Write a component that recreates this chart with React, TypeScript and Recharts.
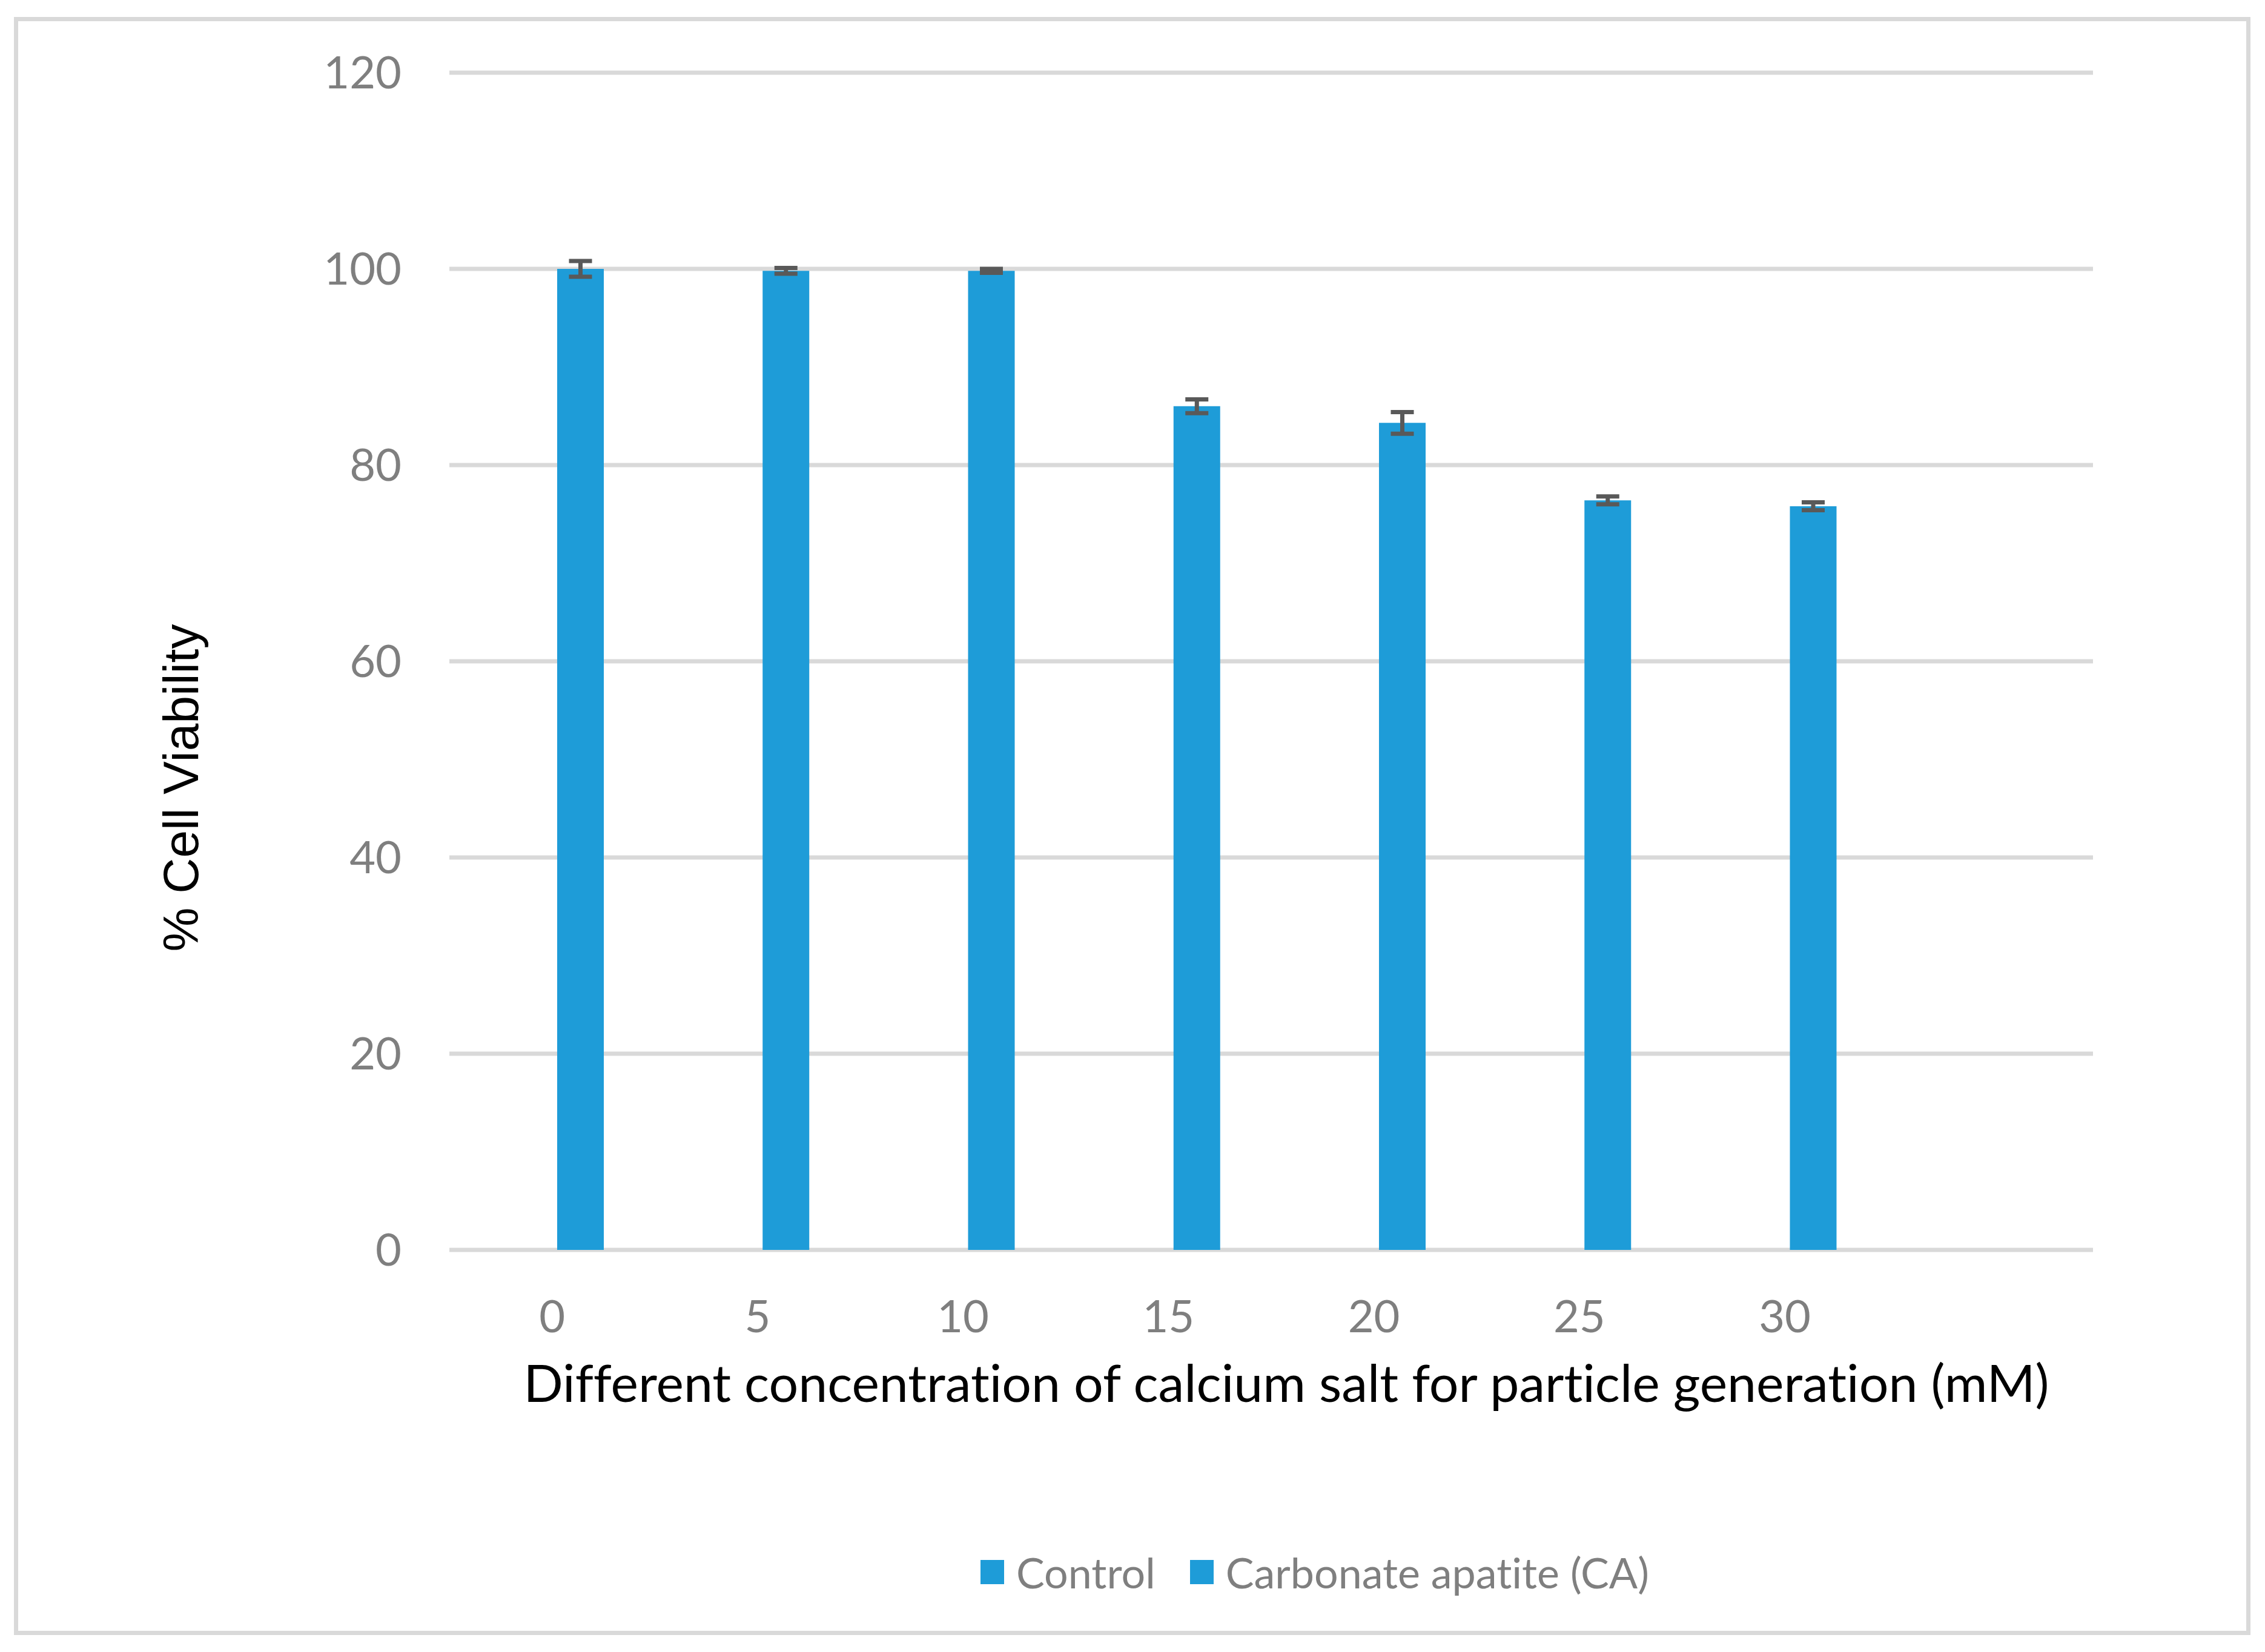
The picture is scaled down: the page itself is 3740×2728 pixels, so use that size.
import React from 'react';
import { BarChart, Bar, XAxis, YAxis, CartesianGrid, ErrorBar, Legend, Label } from 'recharts';

// calcium salt concentration (mM); the last slot is an empty category
const concentrations = ['0', '5', '10', '15', '20', '25', '30', ''];
const controlValues: (number | null)[] = [null, null, null, null, null, null, null, null];
const caValues: (number | null)[] = [100.0, 99.8, 99.8, 86.0, 84.3, 76.4, 75.8, null];
const caErrors: (number | null)[] = [0.8, 0.3, 0.2, 0.7, 1.1, 0.4, 0.4, null];
const yTicks = [0, 20, 40, 60, 80, 100, 120];

const seriesNames = ['Control', 'Carbonate apatite (CA)'];
const barColor = '#1E9CD8';
const gray = '#7F7F7F';

const data = concentrations.map((c, i) => ({
  conc: c,
  control: controlValues[i],
  ca: caValues[i],
  caErr: caErrors[i],
}));

if (typeof document !== 'undefined') {
  document.body.style.margin = '0';
}

const LegendContent = () => (
  <div
    style={{
      height: 80,
      display: 'flex',
      alignItems: 'center',
      justifyContent: 'center',
      fontFamily: 'Lato',
      fontSize: 70,
      fontVariantLigatures: 'none',
      color: gray,
      paddingLeft: 602,
    }}
  >
    {seriesNames.map((name, i) => (
      <div key={name} style={{ display: 'flex', alignItems: 'center', marginRight: i === 0 ? 57 : 0 }}>
        <div style={{ width: 39, height: 40, background: barColor, marginRight: 20 }} />
        <span>{name}</span>
      </div>
    ))}
  </div>
);

const YTitle = () => (
  <text
    x={298}
    y={1301}
    transform="rotate(-90 298 1301)"
    textAnchor="middle"
    dominantBaseline="central"
    fontFamily="Liberation Sans"
    fontSize={82}
    fill="#000"
  >
    % Cell Viability
  </text>
);

const App: React.FC = () => {
  return (
    <div style={{ position: 'relative', width: 3740, height: 2728, background: '#fff' }}>
      <BarChart
        width={3740}
        height={2728}
        data={data}
        margin={{ top: 120, right: 284, bottom: 284, left: 0 }}
        barSize={77}
        barGap={17}
      >
        <CartesianGrid vertical={false} stroke="#D9D9D9" strokeWidth={7} />
        <XAxis
          dataKey="conc"
          height={300}
          axisLine={false}
          tickLine={false}
          tickSize={0}
          tickMargin={83}
          tick={{ fontFamily: 'Lato', fontSize: 74, fill: gray }}
          interval={0}
        >
          <Label
            value="Different concentration of calcium salt for particle generation (mM)"
            position="insideTop"
            offset={190}
            dx={25}
            style={{ fontFamily: 'Lato', fontSize: 86, fill: '#000', fontVariantLigatures: 'none' }}
          />
        </XAxis>
        <YAxis
          type="number"
          domain={[0, 120]}
          ticks={yTicks}
          width={742}
          axisLine={false}
          tickLine={false}
          tickSize={0}
          tickMargin={79}
          tick={{ fontFamily: 'Lato', fontSize: 74, fill: gray }}
        >
          <Label content={<YTitle />} />
        </YAxis>
        <Legend
          verticalAlign="bottom"
          content={<LegendContent />}
          wrapperStyle={{ top: 2556, left: 0, width: 3740, height: 80 }}
        />
        <Bar dataKey="control" name={seriesNames[0]} fill={barColor} isAnimationActive={false} />
        <Bar dataKey="ca" name={seriesNames[1]} fill={barColor} isAnimationActive={false}>
          <ErrorBar dataKey="caErr" width={19} strokeWidth={7} stroke="#595959" />
        </Bar>
      </BarChart>
      <div
        style={{
          position: 'absolute',
          left: 23,
          top: 28,
          width: 3693,
          height: 2672,
          border: '7px solid #D9D9D9',
          boxSizing: 'border-box',
          pointerEvents: 'none',
        }}
      />
    </div>
  );
};

export default App;
